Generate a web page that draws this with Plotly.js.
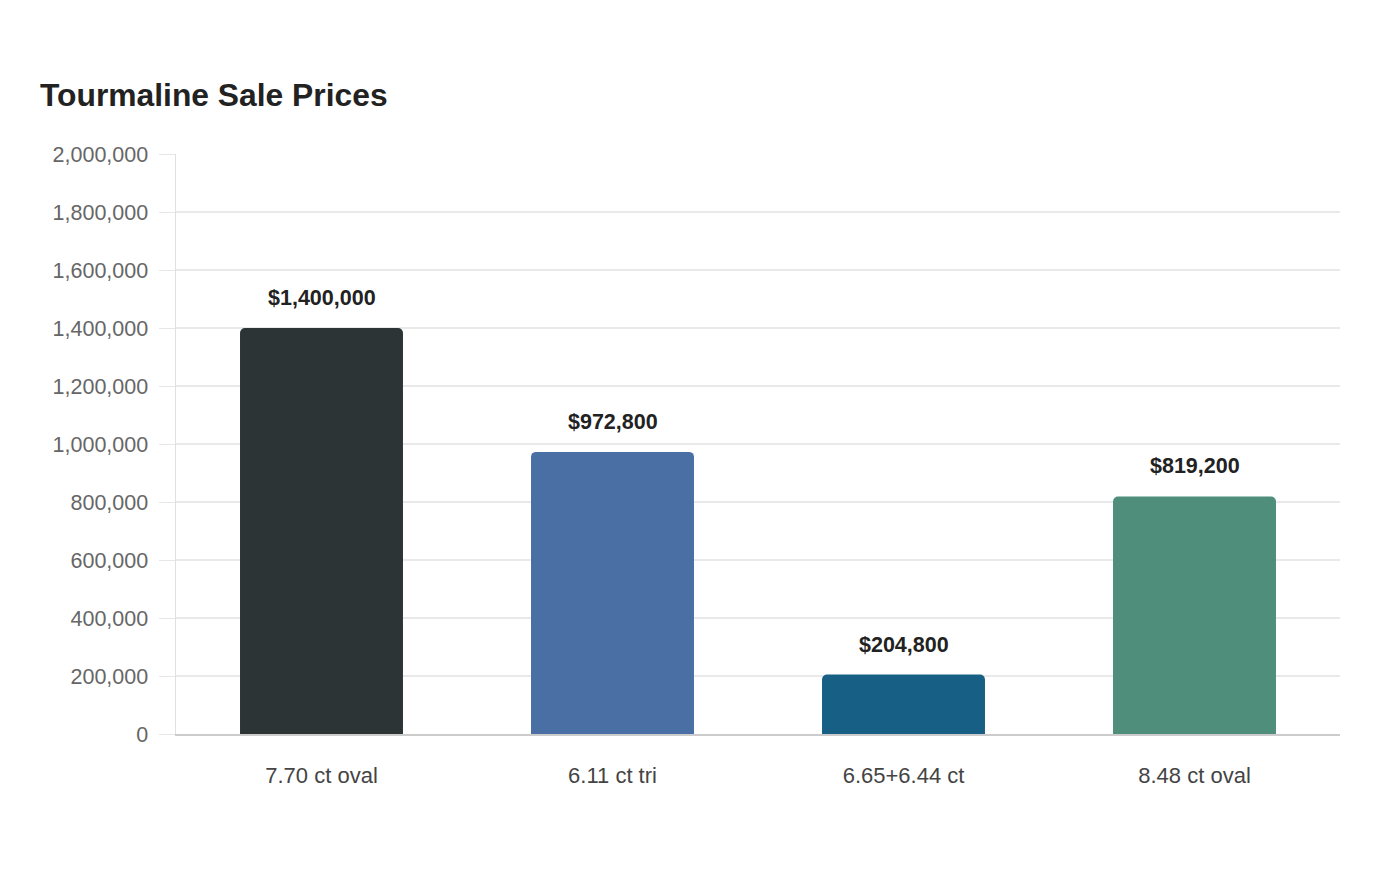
<!DOCTYPE html>
<html><head><meta charset="utf-8">
<script src="https://cdn.plot.ly/plotly-3.0.1.min.js"></script>
<style>html,body{margin:0;padding:0;background:#fff}#chart{width:1400px;height:880px}</style>
</head><body><div id="chart"></div>
<script>
const categories = ["7.70 ct oval", "6.11 ct tri", "6.65+6.44 ct", "8.48 ct oval"];
const prices = [1400000, 972800, 204800, 819200];
const priceLabels = ["$1,400,000", "$972,800", "$204,800", "$819,200"];
const barColors = ["#2d3436", "#4a6fa5", "#175f85", "#4e8e7a"];

const trace = {
  type: "bar",
  x: categories,
  y: prices,
  marker: {color: barColors, cornerradius: 5, line: {width: 0}},
  hoverinfo: "none"
};

const annotations = categories.map((c, i) => ({
  x: c, y: prices[i], xref: "x", yref: "y",
  text: "<b>" + priceLabels[i] + "</b>",
  showarrow: false, yanchor: "middle", yshift: 30,
  font: {family: "Liberation Sans, Arial, sans-serif", size: 21.5, color: "#222"}
}));

const layout = {
  width: 1400, height: 880,
  paper_bgcolor: "#fff", plot_bgcolor: "#fff",
  margin: {l: 176, r: 60, t: 154, b: 146},
  font: {family: "Liberation Sans, Arial, sans-serif"},
  title: {
    text: "<b>Tourmaline Sale Prices</b>",
    x: 40/1400, xanchor: "left", xref: "container",
    y: 1 - 95/880, yanchor: "middle", yref: "container",
    font: {size: 31.8, color: "#222"}
  },
  bargap: 0.44,
  showlegend: false,
  xaxis: {
    type: "category",
    showline: true, linecolor: "#cccccc", linewidth: 1.5,
    showgrid: false, ticks: "", ticklabelstandoff: 21,
    tickfont: {size: 22, color: "#444"}
  },
  yaxis: {
    range: [0, 2000000], tickvals: [0,200000,400000,600000,800000,1000000,1200000,1400000,1600000,1800000,2000000],
    tickformat: ",d",
    showgrid: true, gridcolor: "#e9e9e9", gridwidth: 1.2,
    showline: true, linecolor: "#e0e0e0", linewidth: 1.5,
    ticks: "outside", ticklen: 16, tickcolor: "#e6e6e6",
    ticklabelstandoff: 6, zeroline: false,
    tickfont: {size: 21.5, color: "#666"}
  },
  annotations: annotations
};

Plotly.newPlot("chart", [trace], layout, {displayModeBar: false, staticPlot: true});
</script></body></html>
